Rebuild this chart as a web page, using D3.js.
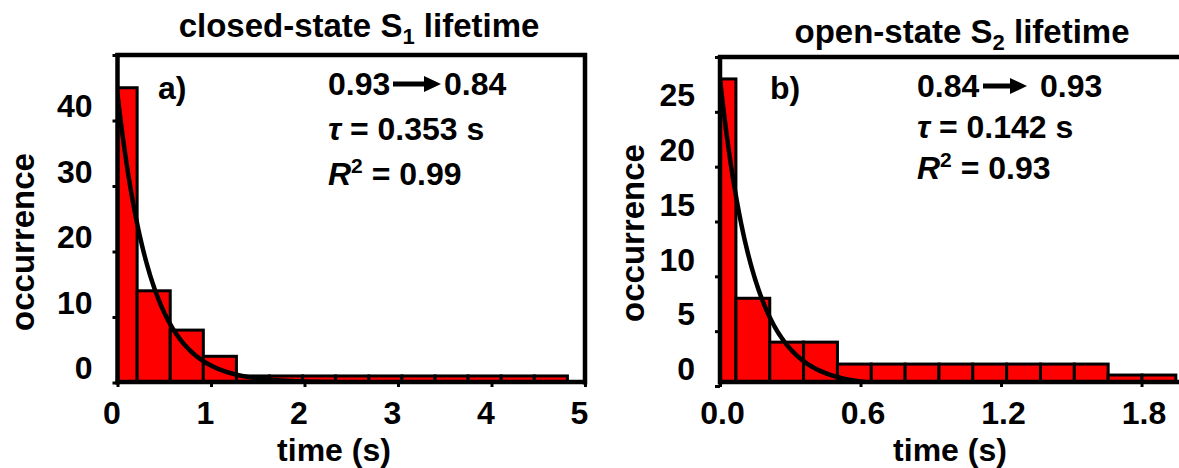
<!DOCTYPE html>
<html>
<head>
<meta charset="utf-8">
<script src="https://cdn.jsdelivr.net/npm/d3@7"></script>
<style>
  body { margin: 0; background: #fff; }
  svg { display: block; }
  text { font-family: "Liberation Sans", Arial, sans-serif; font-weight: bold; fill: #000; }
</style>
</head>
<body>
<svg id="chart"></svg>
<script>
// closed-state S1 lifetime histogram (bin edges in s, counts)
const s1Edges = [0, 0.21, 0.564, 0.918, 1.272, 1.626, 1.98, 2.334, 2.688, 3.042, 3.396, 3.75, 4.104, 4.458, 4.812];
const s1Counts = [45, 14, 8, 4, 1, 1, 1, 1, 1, 1, 1, 1, 1, 1];
const s1XTicks = [0, 1, 2, 3, 4, 5];
const s1YTicks = [0, 10, 20, 30, 40, 50];
const s1YLabels = ["0", "10", "20", "30", "40", ""];
const s1Tau = 0.353;
const s1Amp = 44;

// open-state S2 lifetime histogram
const s2Edges = [0, 0.068, 0.2125, 0.357, 0.5015, 0.646, 0.7905, 0.935, 1.0795, 1.224, 1.3685, 1.513, 1.6575, 1.802, 1.9465];
const s2Counts = [28, 8, 4, 4, 2, 2, 2, 2, 2, 2, 2, 2, 1, 1];
const s2XTicks = [0, 0.6, 1.2, 1.8];
const s2XLabels = ["0.0", "0.6", "1.2", "1.8"];
const s2YTicks = [0, 5, 10, 15, 20, 25, 30];
const s2YLabels = ["0", "5", "10", "15", "20", "25", ""];
const s2Tau = 0.142;
const s2Amp = 28;

const width = 1179;
const height = 468;

const svg = d3.select("#chart")
  .attr("width", width)
  .attr("height", height);

function drawArrow(g, xa, xb, yc) {
  const head = 17, hh = 8, sh = 2.6;
  const pts = [[xa, yc - sh], [xb - head, yc - sh], [xb - head, yc - hh], [xb, yc],
               [xb - head, yc + hh], [xb - head, yc + sh], [xa, yc + sh]];
  g.append("path").attr("d", "M" + pts.join("L") + "Z").attr("fill", "#000");
}

function drawPanel(p) {
  const g = svg.append("g");

  const x = d3.scaleLinear().domain(p.xDomain).range([p.left, p.right]);
  const y = d3.scaleLinear().domain(p.yDomain).range([p.zero, p.top]);

  g.append("clipPath").attr("id", p.id)
    .append("rect")
    .attr("x", p.left).attr("y", p.top)
    .attr("width", p.right - p.left).attr("height", p.axisY - p.top);

  const plot = g.append("g").attr("clip-path", `url(#${p.id})`);

  const bins = p.counts.map((c, i) => ({ x0: p.edges[i], x1: p.edges[i + 1], c }));

  plot.selectAll("rect.bar")
    .data(bins)
    .enter()
    .append("rect")
    .attr("class", "bar")
    .attr("x", (d) => x(d.x0))
    .attr("width", (d) => x(d.x1) - x(d.x0))
    .attr("y", (d) => y(d.c))
    .attr("height", (d) => y(0) - y(d.c))
    .attr("fill", "#ff0000")
    .attr("stroke", "#000")
    .attr("stroke-width", 3);

  // exponential fit
  const ts = d3.range(0, p.xDomain[1] + 0.005, 0.005);
  const line = d3.line()
    .x((t) => x(t))
    .y((t) => y(p.amp * Math.exp(-t / p.tau)));
  plot.append("path")
    .datum(ts)
    .attr("d", line)
    .attr("fill", "none")
    .attr("stroke", "#000")
    .attr("stroke-width", 4.5);

  // y axis
  const yAxis = g.append("g")
    .attr("transform", `translate(${p.left},0)`)
    .call(d3.axisLeft(y).tickValues(p.yTicks)
      .tickFormat((d, i) => p.yLabels[i]).tickSize(5).tickSizeOuter(0));
  yAxis.select(".domain").remove();
  yAxis.selectAll(".tick line").attr("stroke-width", 3).attr("stroke", "#000");
  yAxis.selectAll(".tick text")
    .attr("x", -25)
    .attr("y", p.yLabelShift)
    .attr("dy", "0.35em")
    .style("font-size", "32px")
    .style("font-family", "'Liberation Sans', Arial, sans-serif")
    .style("font-weight", "bold");

  // x axis
  const xAxis = g.append("g")
    .attr("transform", `translate(0,${p.axisY})`)
    .call(d3.axisBottom(x).tickValues(p.xTicks)
      .tickFormat((d, i) => p.xLabels[i]).tickSize(5).tickSizeOuter(0));
  xAxis.select(".domain").remove();
  xAxis.selectAll(".tick line").attr("stroke-width", 3).attr("stroke", "#000");
  xAxis.selectAll(".tick text")
    .attr("x", p.xLabelShift)
    .attr("y", 42)
    .attr("dy", 0)
    .style("font-size", "32px")
    .style("font-family", "'Liberation Sans', Arial, sans-serif")
    .style("font-weight", "bold");

  // frame
  const frame = [
    [[p.left, p.top - 2], [p.left, p.axisY + 2.5]],
    [[p.left - 2, p.axisY], [p.right + 2, p.axisY]],
    [[p.left - 2, p.top], [p.right + 2, p.top]]
  ];
  if (p.rightBorder) frame.push([[p.right, p.top - 2], [p.right, p.axisY + 2.5]]);
  g.selectAll("line.frame")
    .data(frame)
    .enter()
    .append("line")
    .attr("class", "frame")
    .attr("x1", (d) => d[0][0]).attr("y1", (d) => d[0][1])
    .attr("x2", (d) => d[1][0]).attr("y2", (d) => d[1][1])
    .attr("stroke", "#000")
    .attr("stroke-width", 4.5);

  // axis titles
  g.append("text")
    .attr("x", p.xTitleX).attr("y", 461)
    .attr("text-anchor", "middle")
    .style("font-size", "32px")
    .text("time (s)");

  g.append("text")
    .attr("transform", `translate(${p.yTitleX},${p.yTitleY}) rotate(-90)`)
    .attr("text-anchor", "middle")
    .style("font-size", "33px")
    .text("occurrence");

  // panel title with subscript
  const title = g.append("text")
    .attr("x", p.titleX).attr("y", p.titleY)
    .attr("text-anchor", "middle")
    .style("font-size", "33px");
  title.append("tspan").text(p.titleA);
  title.append("tspan").attr("dy", 7).style("font-size", "22px").text(p.titleSub);
  title.append("tspan").attr("dy", -7).text(" lifetime");

  // panel letter
  g.append("text")
    .attr("x", p.letterX).attr("y", 99)
    .style("font-size", "32px")
    .text(p.letter);

  // annotations
  g.append("text")
    .attr("x", p.noteX).attr("y", p.noteY[0])
    .style("font-size", "32px")
    .text(p.from);
  drawArrow(g, p.arrow[0], p.arrow[1], p.noteY[0] - 11);
  g.append("text")
    .attr("x", p.arrow[2]).attr("y", p.noteY[0])
    .style("font-size", "32px")
    .text(p.to);

  const tau = g.append("text")
    .attr("x", p.noteX).attr("y", p.noteY[1])
    .style("font-size", "32px");
  tau.append("tspan").style("font-style", "italic").text("τ");
  tau.append("tspan").text(` = ${p.tau} s`);

  const r2 = g.append("text")
    .attr("x", p.noteX).attr("y", p.noteY[2])
    .style("font-size", "32px");
  r2.append("tspan").style("font-style", "italic").text("R");
  r2.append("tspan").attr("dy", -12).style("font-size", "21px").text("2");
  r2.append("tspan").attr("dy", 12).text(` = ${p.r2}`);
}

drawPanel({
  id: "clipA",
  edges: s1Edges, counts: s1Counts,
  xDomain: [0, 5], yDomain: [0, 50],
  xTicks: s1XTicks, xLabels: s1XTicks.map(String),
  yTicks: s1YTicks, yLabels: s1YLabels,
  left: 117.5, right: 585, top: 55, zero: 382.5, axisY: 382,
  yLabelShift: -15, xLabelShift: -6,
  rightBorder: true,
  tau: s1Tau, amp: s1Amp, r2: "0.99",
  xTitleX: 334, yTitleX: 34, yTitleY: 242,
  titleX: 359, titleY: 37, titleA: "closed-state S", titleSub: "1",
  letter: "a)", letterX: 158,
  noteX: 328, noteY: [95, 140, 185],
  from: "0.93", to: "0.84", arrow: [393, 441, 444]
});

drawPanel({
  id: "clipB",
  edges: s2Edges, counts: s2Counts,
  xDomain: [0, 1.96], yDomain: [0, 30],
  xTicks: s2XTicks, xLabels: s2XLabels,
  yTicks: s2YTicks, yLabels: s2YLabels,
  left: 720, right: 1179, top: 57, zero: 386, axisY: 382,
  yLabelShift: -17.5, xLabelShift: 2,
  rightBorder: false,
  tau: s2Tau, amp: s2Amp, r2: "0.93",
  xTitleX: 950, yTitleX: 644, yTitleY: 233,
  titleX: 962, titleY: 43, titleA: "open-state S", titleSub: "2",
  letter: "b)", letterX: 770,
  noteX: 917, noteY: [97, 138, 179],
  from: "0.84", to: "0.93", arrow: [983, 1027, 1040]
});
</script>
</body>
</html>
